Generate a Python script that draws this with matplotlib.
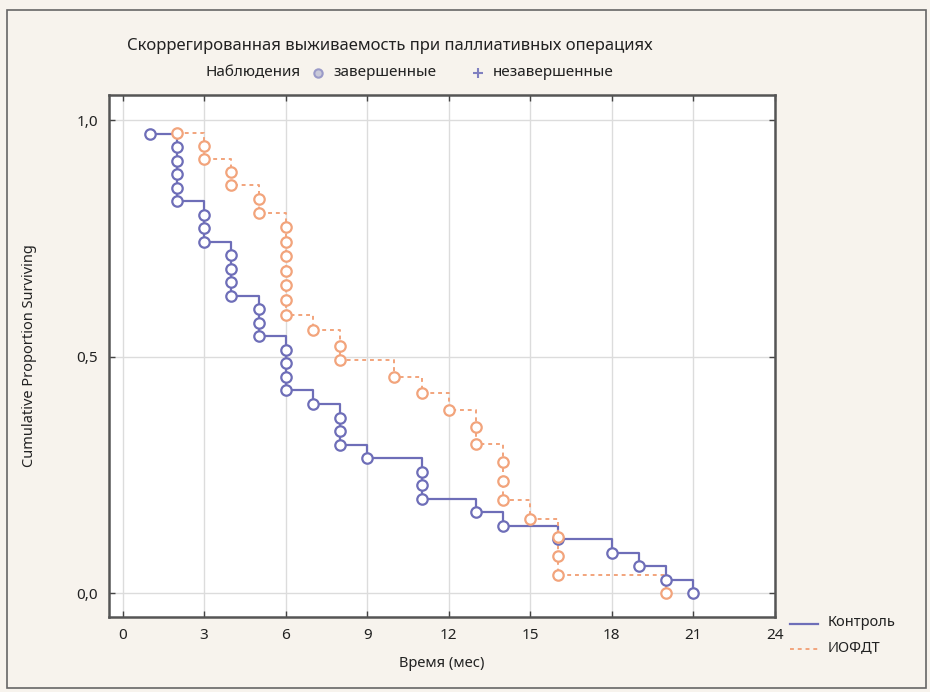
import matplotlib
matplotlib.use("Agg")
import matplotlib.pyplot as plt
from matplotlib.lines import Line2D
from matplotlib.patches import Rectangle

plt.rcParams['font.family'] = ['Noto Sans', 'DejaVu Sans']

# ---- data ----
ctrl_t = [1, 2, 2, 2, 2, 2, 3, 3, 3, 4, 4, 4, 4, 5, 5, 5, 6, 6, 6, 6, 7,
          8, 8, 8, 9, 11, 11, 11, 13, 14, 16, 18, 19, 20, 21]
ctrl_s = [0.971, 0.943, 0.914, 0.886, 0.857, 0.829, 0.800, 0.771, 0.743,
          0.714, 0.686, 0.657, 0.629, 0.600, 0.571, 0.543, 0.514, 0.486,
          0.457, 0.429, 0.400, 0.371, 0.343, 0.314, 0.286, 0.257, 0.229,
          0.200, 0.171, 0.143, 0.114, 0.086, 0.057, 0.029, 0.000]

iofdt_t = [2, 3, 3, 4, 4, 5, 5, 6, 6, 6, 6, 6, 6, 6, 7, 8, 8, 10, 11, 12,
           13, 13, 14, 14, 14, 15, 16, 16, 16, 20]
iofdt_s = [0.972, 0.945, 0.918, 0.890, 0.862, 0.833, 0.804, 0.774, 0.743,
           0.713, 0.682, 0.651, 0.620, 0.589, 0.557, 0.523, 0.494, 0.458,
           0.424, 0.388, 0.352, 0.316, 0.277, 0.237, 0.198, 0.158, 0.118,
           0.078, 0.038, 0.000]

x_ticks = [0, 3, 6, 9, 12, 15, 18, 21, 24]
y_ticks = [0.0, 0.5, 1.0]
y_ticklabels = ['0,0', '0,5', '1,0']
series_names = ['Контроль', 'ИОФДТ']

title = 'Скоррегированная выживаемость при паллиативных операциях'
xlabel = 'Время (мес)'
ylabel = 'Cumulative Proportion Surviving'

# ---- styles ----
BG = '#f7f3ed'
C_CTRL = '#6e6eb8'
C_IOF = '#f2a47c'
EDGE = '#555555'

W, H = 930, 692
fig = plt.figure(figsize=(W / 100, H / 100), dpi=100, facecolor=BG)

def fx(px):
    return px / W

def fy(py):
    return 1 - py / H

# figure frame
fig.add_artist(Rectangle((fx(7), fy(688)), fx(919), (688 - 10) / H,
                         transform=fig.transFigure, fill=False,
                         edgecolor='#666666', lw=1.2))

ax = fig.add_axes([fx(109), fy(617), fx(775) - fx(109), fy(95) - fy(617)])
ax.set_facecolor('white')
ax.set_xlim(-0.5, 24)
ax.set_ylim(-0.05, 1.053)

ax.set_xticks(x_ticks)
ax.set_xticklabels([str(t) for t in x_ticks])
ax.set_yticks(y_ticks)
ax.set_yticklabels(y_ticklabels)
ax.tick_params(direction='in', length=4, width=1, color='#444444',
               labelsize=11, labelcolor='#222222', top=True, right=True,
               pad=8)
ax.grid(True, color='#dcdcdc', lw=1.0)
ax.set_axisbelow(True)
for s in ax.spines.values():
    s.set_color(EDGE)
    s.set_linewidth(1.8)

ax.plot(ctrl_t, ctrl_s, drawstyle='steps-post', color=C_CTRL, lw=1.6,
        zorder=3)
ax.plot(ctrl_t, ctrl_s, ls='none', marker='o', ms=7.5, mfc='white',
        mec=C_CTRL, mew=1.6, zorder=4)
ax.plot(iofdt_t, iofdt_s, drawstyle='steps-post', color=C_IOF, lw=1.4,
        ls=(0, (2, 2)), zorder=3)
ax.plot(iofdt_t, iofdt_s, ls='none', marker='o', ms=7.5, mfc='white',
        mec=C_IOF, mew=1.6, zorder=4)

ax.set_xlabel(xlabel, fontsize=10.5, color='#222222', labelpad=9)
ax.set_ylabel(ylabel, fontsize=10.5, color='#222222', labelpad=28)

# title and observation legend
fig.text(fx(390), fy(46), title, ha='center', va='center', fontsize=12,
         color='#222222')
fig.text(fx(205), fy(73), 'Наблюдения', ha='left', va='center',
         fontsize=11, color='#222222')
fig.add_artist(Line2D([fx(318)], [fy(73)], marker='o', ms=6, mfc='#c9c9d9',
                      mec='#9a9ac8', mew=1.5, transform=fig.transFigure))
fig.text(fx(333), fy(73), 'завершенные', ha='left', va='center',
         fontsize=11, color='#222222')
fig.add_artist(Line2D([fx(478)], [fy(73)], marker='+', ms=7, mec='#8080c0',
                      mew=1.5, transform=fig.transFigure))
fig.text(fx(493), fy(73), 'незавершенные', ha='left', va='center',
         fontsize=11, color='#222222')

# series legend (outside bottom-right)
fig.add_artist(Line2D([fx(790), fx(818)], [fy(624), fy(624)], color=C_CTRL,
                      lw=1.6, transform=fig.transFigure))
fig.add_artist(Line2D([fx(790), fx(818)], [fy(649), fy(649)], color=C_IOF,
                      lw=1.4, ls=(0, (2, 2)), transform=fig.transFigure))
fig.text(fx(828), fy(623), series_names[0], ha='left', va='center',
         fontsize=10.5, color='#222222')
fig.text(fx(828), fy(648), series_names[1], ha='left', va='center',
         fontsize=10.5, color='#222222')

fig.savefig('out.png', dpi=100, facecolor=BG)
